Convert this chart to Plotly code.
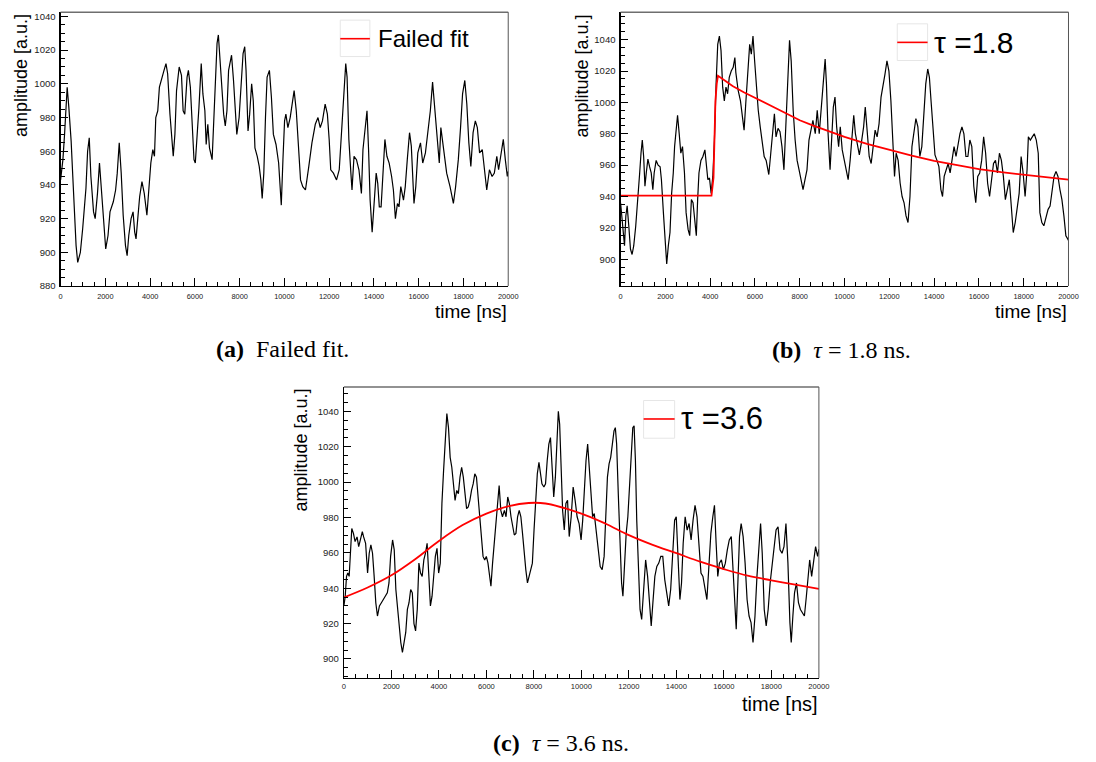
import plotly.graph_objects as go

W, H = 1096, 762

# ---------------- data ----------------
a_t = [0, 103, 177, 250, 294, 368, 471, 545, 618, 692, 765, 883, 986, 1060, 1133, 1207, 1280, 1354,
       1472, 1545, 1648, 1737, 1825, 1943, 2016, 2119, 2207, 2355, 2458, 2531, 2620, 2708, 2796,
       2899, 2973, 3046, 3149, 3238, 3311, 3370, 3444, 3532, 3635, 3738, 3856, 3929, 4032, 4121,
       4194, 4253, 4341, 4415, 4518, 4621, 4709, 4783, 4886, 4959, 5033, 5107, 5180, 5298, 5401,
       5475, 5548, 5651, 5710, 5798, 5887, 5960, 6019, 6093, 6181, 6284, 6358, 6446, 6505, 6578,
       6652, 6770, 6843, 6917, 6990, 7049, 7123, 7211, 7285, 7358, 7432, 7506, 7638, 7726, 7800,
       7873, 7976, 8079, 8153, 8227, 8286, 8374, 8447, 8536, 8609, 8683, 8786, 8874, 8948, 9007,
       9080, 9154, 9227, 9330, 9419, 9507, 9625, 9742, 9860, 9934, 10007, 10066, 10155, 10258,
       10361, 10434, 10530, 10620, 10720, 10820, 10940, 11090, 11230, 11380, 11500, 11600, 11700,
       11820, 11920, 12000, 12070, 12190, 12330, 12450, 12550, 12660, 12740, 12800, 12880, 12970,
       13020, 13110, 13220, 13330, 13440, 13510, 13610, 13690, 13760, 13830, 13920, 14000, 14100,
       14170, 14240, 14320, 14400, 14490, 14580, 14680, 14790, 14870, 14960, 15050, 15120, 15200,
       15320, 15400, 15490, 15590, 15670, 15790, 15870, 15960, 16080, 16180, 16300, 16400, 16520,
       16620, 16710, 16810, 16920, 16990, 17110, 17250, 17400, 17550, 17650, 17770, 17870, 17960,
       18060, 18150, 18240, 18330, 18430, 18530, 18620, 18720, 18840, 18940, 19040, 19160, 19280,
       19380, 19490, 19570, 19670, 19780, 19870, 19960, 20000]
a_v = [943, 955, 970, 985, 998, 986, 966, 945, 924, 904, 894, 900, 914, 925, 938, 960, 968, 945,
       924, 920, 935, 953, 935, 912, 902, 910, 924, 930, 937, 947, 965, 947, 922,
       904, 898, 910, 920, 924, 912, 908, 920, 933, 942, 935, 922, 933, 953, 961,
       957, 980, 984, 998, 1004, 1008, 1012, 1006, 982, 966, 957, 970, 996, 1010, 1005,
       984, 982, 1004, 1008, 998, 974, 955, 953, 966, 986, 1012, 994, 984, 964, 976,
       962, 955, 978, 1000, 1024, 1029, 1014, 994, 982, 975, 984, 1008, 1017, 1002, 984,
       970, 980, 1004, 1018, 1022, 1008, 972, 982, 1000, 990, 962, 957, 951, 943, 932,
       947, 980, 1004, 1008, 992, 970, 964, 953, 928, 955, 978, 982, 974, 980,
       988, 996, 984, 963, 943, 939, 937, 951, 965, 976, 980, 974, 978,
       988, 982, 967, 949, 947, 943, 949, 971, 994, 1012, 1004, 967, 947,
       937, 957, 955, 949, 935, 961, 976, 984, 961, 931, 912, 927, 947,
       941, 927, 927, 949, 967, 957, 953, 945, 937, 920, 929, 927, 939,
       931, 939, 955, 971, 963, 929, 939, 959, 965, 953, 959, 971, 984,
       1001, 986, 971, 953, 974, 961, 947, 939, 929, 939, 955, 974, 994,
       1002, 988, 965, 951, 971, 978, 974, 959, 961, 947, 937, 949, 945,
       947, 957, 949, 959, 967, 955, 945, 948]

b_t = [0, 60, 120, 176, 235, 294, 368, 441, 515, 588, 676, 765, 853, 912, 970, 1030, 1088, 1147,
       1220, 1294, 1368, 1441, 1500, 1588, 1676, 1765, 1824, 1912, 1985, 2060, 2132, 2206, 2280,
       2353, 2412, 2485, 2544, 2618, 2690, 2765, 2853, 2926, 3015, 3088, 3162, 3235, 3309, 3382,
       3441, 3500, 3588, 3676, 3765, 3838, 3897, 3970, 4044, 4118, 4190, 4265, 4338, 4412, 4485,
       4559, 4632, 4706, 4779, 4853, 4941, 5029, 5103, 5147, 5250, 5353, 5441, 5515, 5588, 5676,
       5765, 5838, 5912, 5985, 6059, 6147, 6235, 6323, 6412, 6500, 6618, 6706, 6794, 6868, 6941,
       7030, 7118, 7206, 7294, 7382, 7470, 7544, 7618, 7706, 7794, 7882, 7970, 8059, 8147, 8235,
       8323, 8412, 8500, 8588, 8693, 8781, 8870, 8957, 9045, 9134, 9192, 9266, 9354, 9427, 9500,
       9574, 9648, 9736, 9809, 9897, 9985, 10073, 10161, 10250, 10338, 10411, 10485, 10573, 10661,
       10749, 10852, 10925, 10999, 11101, 11189, 11278, 11366, 11454, 11542, 11630, 11718, 11806,
       11894, 11982, 12070, 12158, 12232, 12305, 12393, 12482, 12570, 12658, 12746, 12834, 12922,
       13010, 13098, 13186, 13275, 13363, 13451, 13539, 13627, 13715, 13789, 13862, 13950, 14038,
       14126, 14214, 14302, 14376, 14449, 14537, 14626, 14714, 14802, 14890, 14978, 15066, 15154,
       15242, 15330, 15419, 15507, 15595, 15683, 15771, 15859, 15947, 16035, 16123, 16211, 16300,
       16388, 16476, 16564, 16652, 16740, 16828, 16916, 17004, 17092, 17181, 17269, 17357, 17445,
       17533, 17621, 17709, 17797, 17885, 17974, 18062, 18150, 18208, 18296, 18384, 18472, 18561,
       18649, 18722, 18810, 18899, 19001, 19089, 19177, 19266, 19354, 19442, 19530, 19618, 19706,
       19795, 19883, 19971, 20000]
b_v = [936, 925.5, 917, 908.6, 927.6, 934, 921, 906.5, 903, 908.6, 921, 936, 955, 967.6, 976, 965.5,
       946.5, 955, 963.8, 959, 955, 944.4, 955, 963, 960, 959, 950.7, 929.7, 913, 897, 908.6, 917,
       942, 955, 971.8, 986.5, 991.8, 980, 967.6, 971.8, 955, 929.7, 919, 915, 938, 936, 925.5,
       915, 938, 955, 963, 965.5, 969.7, 961, 950.7, 951.8, 942, 952.8, 976, 1011.8, 1037,
       1042.3, 1033, 1009.7, 1001, 1009.7, 1005.5, 1016, 1020, 1022.3, 1028.6, 1019, 1007.6,
       1001, 990.7, 982.3, 999, 1022.3, 1037, 1030.7, 1042.3, 1026.5, 1009.7, 995, 984.4, 974,
       965.5, 963, 954, 967.6, 982.3, 992.8, 978, 983.4, 981.3, 971.8, 957, 984.4, 1020, 1039.6,
       1026.5, 995, 976, 963, 957, 950.7, 944.4, 950.7, 957, 976, 982.3, 988.6, 980, 995, 980,
       997, 1011.8, 1027.6, 1011.8, 980, 957, 980, 997, 1003.4, 984.4, 971.8, 984.4, 969.7, 963,
       957, 950.7, 963, 982.3, 991.8, 980, 974, 966.5, 974, 984.4, 997, 984.4, 965.5, 961, 974,
       982.3, 978, 986.5, 1003.4, 1009.7, 1018, 1026.5, 1020, 1001, 976, 952.8, 967.6, 963, 948.6,
       940, 936, 927.6, 923.4, 940, 971.8, 980, 989.7, 984.4, 965.5, 971.8, 988.6, 1011.8, 1021.3,
       1016, 1001, 980, 966.5, 963, 959, 944.4, 940, 952.8, 957, 961, 955, 963, 971.8, 965.5,
       974, 980, 984.4, 980, 965.5, 965.5, 976, 971.8, 946.5, 936, 952.8, 955, 963, 978, 967.6,
       948.6, 940, 950.7, 961, 963, 955, 967.6, 963, 952.8, 938, 944.4, 950.7, 933.9, 917,
       923.4, 931.8, 942, 965.5, 955, 940, 957, 978, 976, 978, 980, 976, 967.6, 929.7, 923.4,
       921.3, 927.6, 931.8, 933.9, 942, 952.8, 956, 952.8, 944.4, 938, 927.6, 915, 912.8, 912]

b_fit_t = [0, 4060, 4150, 4235, 4294, 4350, 4700, 5000, 5500, 6000, 6500, 7000, 7500, 8000, 8576,
           9000, 9500, 10000, 11000, 12000, 13000, 14000, 15000, 16000, 17000, 18000, 19000, 20000]
b_fit_v = [940.5, 940.5, 952, 1001, 1012, 1017, 1013.5, 1010.5, 1006.5, 1003, 999.2, 995.5, 992,
           988.6, 985.3, 983.2, 980.5, 978, 973.6, 969.7, 966, 962.7, 960, 957.5, 955.5, 954,
           952.3, 950.7]

c_t = [0, 55, 111, 166, 222, 277, 332, 402, 471, 554, 623, 693, 776, 831, 914, 997, 1066, 1136,
       1205, 1274, 1343, 1413, 1496, 1579, 1662, 1745, 1828, 1898, 1967, 2050, 2119, 2188, 2258,
       2327, 2396, 2465, 2535, 2604, 2673, 2742, 2812, 2881, 2950, 3019, 3089, 3158, 3227, 3296,
       3366, 3435, 3504, 3573, 3643, 3712, 3781, 3850, 3920, 3989, 4058, 4127, 4197, 4266, 4335,
       4404, 4474, 4543, 4612, 4681, 4751, 4820, 4889, 4958, 5028, 5097, 5166, 5235, 5305, 5374,
       5443, 5512, 5582, 5651, 5720, 5789, 5859, 5928, 5997, 6066, 6136, 6191, 6260, 6330, 6399,
       6468, 6537, 6607, 6676, 6759, 6828, 6898, 6967, 7036, 7105, 7175, 7244, 7313, 7382, 7452,
       7521, 7590, 7659, 7729, 7798, 7867, 7936, 8006, 8075, 8144, 8213, 8283, 8338, 8421, 8490,
       8560, 8629, 8698, 8766, 8835, 8904, 8974, 9029, 9085, 9140, 9209, 9279, 9348, 9417, 9487,
       9570, 9653, 9736, 9820, 9903, 9986, 10055, 10125, 10194, 10264, 10333, 10402, 10472, 10541,
       10624, 10707, 10791, 10874, 10957, 11026, 11096, 11165, 11234, 11304, 11373, 11429, 11484,
       11553, 11623, 11692, 11748, 11817, 11886, 11956, 12025, 12094, 12164, 12219, 12275, 12330,
       12399, 12469, 12538, 12621, 12705, 12788, 12871, 12940, 13010, 13093, 13176, 13259, 13343,
       13426, 13509, 13592, 13676, 13759, 13842, 13925, 13994, 14064, 14147, 14216, 14286, 14369,
       14452, 14535, 14619, 14702, 14785, 14868, 14951, 15035, 15118, 15201, 15284, 15368, 15451,
       15534, 15603, 15673, 15742, 15811, 15895, 15978, 16061, 16144, 16227, 16311, 16394, 16463,
       16519, 16588, 16658, 16727, 16810, 16893, 16976, 17060, 17143, 17226, 17309, 17392, 17476,
       17545, 17614, 17698, 17781, 17864, 17947, 18031, 18114, 18197, 18280, 18363, 18447, 18530,
       18613, 18696, 18779, 18835, 18904, 18974, 19057, 19140, 19223, 19307, 19390, 19473, 19542,
       19612, 19695, 19778, 19861, 19945, 20000]
c_v = [930, 935.5, 946.7, 948.6, 946.7, 959.8, 973.8, 971, 966.4, 969, 963.5, 967.3, 972, 969,
       965.4, 948.6, 959.8, 964.5, 959.8, 946.7, 931.8, 924.3, 930, 931.8, 933.6, 935.5, 937.4,
       943, 958, 967.3, 961.7, 939.3, 928, 916.8, 909.3, 903.7, 909.3, 915, 928, 931.8, 939.3,
       937.4, 920, 915.9, 928, 954.2, 948.6, 946.7, 956, 959.8, 965.4, 946.7, 930, 935.5, 946.7,
       958, 962.6, 948.6, 954.2, 987.9, 1006.5, 1025.2, 1038.7, 1030.8, 1014, 1008.4, 999,
       989.7, 995.3, 993.5, 1002.8, 1008.4, 1002.8, 991.6, 985, 986, 989.7, 995.3, 999, 1004.7,
       1002.8, 991.6, 980.4, 969, 958, 956, 958, 954.2, 944.9, 941.1, 954.2, 965.4, 976.6,
       987.9, 998.1, 984, 980.4, 984, 980.4, 991.6, 987.9, 980.4, 974.8, 970.1, 971, 980.4,
       984, 980.4, 971, 959.8, 950.5, 943, 946.7, 950.5, 954.2, 972.9, 993.5, 1004.7, 1011.2,
       1004.7, 999, 997.2, 999, 1012.1, 1021.5, 1025.2, 1010.3, 991.6, 1002.8, 1025.2, 1040,
       1032.7, 1012.1, 984, 972.9, 987.9, 989.7, 969.2, 980.4, 997.2, 989.7, 980.4, 976.6, 967.3,
       978.5, 997.2, 1012.1, 1021.5, 1006.5, 989.7, 980.4, 982.2, 971, 961.7, 952.3, 950.5, 958,
       980.4, 1002.8, 1010.3, 1014, 1021.5, 1029, 1030.8, 1021.5, 993.5, 965.4, 943, 935.5,
       954.2, 971, 980.4, 997.2, 1015.9, 1030.8, 1031.8, 1012.1, 978.5, 950.5, 928, 922.4, 943,
       956, 946.7, 930, 918.7, 931.8, 946.7, 952.3, 954.2, 958, 958, 944.9, 937.4, 930, 939.3,
       961.7, 978.5, 980.4, 956, 933.6, 943, 965.4, 980.4, 972.9, 976.6, 967.3, 978.5, 986.9,
       980.4, 961.7, 948.6, 946.7, 939.3, 933.6, 952.3, 971, 980.4, 986.9, 965.4, 946.7, 954.2,
       956, 950.5, 954.2, 961.7, 967.3, 969.2, 946.7, 924.3, 916.8, 943, 969.2, 976.6, 969.2,
       954.2, 933.6, 924.3, 920.6, 909.3, 924.3, 946.7, 965.4, 976.6, 959.8, 928, 918.7, 928,
       943, 952.3, 963.5, 972.9, 974.8, 961.7, 959.8, 963.5, 976.6, 954.2, 920.6, 909.3, 924.3,
       937.4, 943, 931.8, 928, 926.2, 924.3, 935.5, 948.6, 956, 946.7, 954.2, 963.5, 958, 962]

c_fit_t = [0, 1000, 2000, 3000, 4000, 5000, 6000, 6950, 7780, 8488, 10000, 11000, 12000, 13000,
           14000, 15000, 16000, 17000, 18000, 19000, 20000]
c_fit_v = [934.8, 940.4, 947.3, 956.4, 966.7, 975.7, 982.2, 986.4, 988.2, 987.9, 982.2, 976.6,
           970, 964.5, 959.8, 955, 950.8, 947.1, 944.5, 942, 939.6]

x_ticks = list(range(0, 20001, 2000))
x_ticktext = [str(v) for v in x_ticks]

# ---------------- layout geometry (pixels) ----------------
panels = [
    dict(left=59.3, right=512.3, top=11.3, bottom=287.3, yr=[880, 1042.5],
         yt=list(range(880, 1041, 20)), title_y=312.5, amp_x=18.5, tfs=19, xfs=7.4, xso=3),
    dict(left=626.0, right=1079.3, top=11.3, bottom=287.3, yr=[882.9, 1057.5],
         yt=list(range(900, 1041, 20)), title_y=312.5, amp_x=586.7, tfs=19, xfs=7.4, xso=3),
    dict(left=346.0, right=826.7, top=389.0, bottom=682.3, yr=[889.3, 1053.8],
         yt=list(range(900, 1041, 20)), title_y=708.5, amp_x=302.7, tfs=20, xfs=7.6, xso=1),
]


def px(x):
    return x / W


def py(y):
    return 1 - y / H


fig = go.Figure()

series = [(a_t, a_v, None, None, None), (b_t, b_v, b_fit_t, b_fit_v, "linear"),
          (c_t, c_v, c_fit_t, c_fit_v, "spline")]
shapes = []
annotations = []

for i, (p, (tt, vv, ft, fv, fshape)) in enumerate(zip(panels, series)):
    n = i + 1
    xa = "x" if n == 1 else f"x{n}"
    ya = "y" if n == 1 else f"y{n}"
    fig.add_trace(go.Scatter(x=tt, y=vv, mode="lines", xaxis=xa, yaxis=ya,
                             line=dict(color="black", width=1.2), showlegend=False,
                             hoverinfo="skip"))
    if ft is not None:
        fig.add_trace(go.Scatter(x=ft, y=fv, mode="lines", xaxis=xa, yaxis=ya,
                                 line=dict(color="#ff0000", width=1.8, shape=fshape),
                                 showlegend=False, hoverinfo="skip"))
    xkey = "xaxis" if n == 1 else f"xaxis{n}"
    ykey = "yaxis" if n == 1 else f"yaxis{n}"
    fig.update_layout(**{
        xkey: dict(domain=[px(p["left"]), px(p["right"])], anchor=ya, range=[0, 20000],
                   tickmode="array", tickvals=x_ticks, ticktext=x_ticktext,
                   ticks="inside", ticklen=8, tickwidth=1, tickcolor="black",
                   minor=dict(dtick=500, tick0=0, ticks="inside", ticklen=4, tickwidth=1,
                              tickcolor="black", showgrid=False),
                   showline=True, linecolor="black", linewidth=1.2, showgrid=False,
                   zeroline=False,
                   tickfont=dict(family="Liberation Sans", size=p["xfs"], color="#222"),
                   ticklabelstandoff=p["xso"]),
        ykey: dict(domain=[py(p["bottom"]), py(p["top"])], anchor=xa, range=p["yr"],
                   tickmode="array", tickvals=p["yt"], ticktext=[str(v) for v in p["yt"]],
                   ticks="inside", ticklen=7, tickwidth=1, tickcolor="black",
                   minor=dict(dtick=5, tick0=0, ticks="inside", ticklen=4, tickwidth=1,
                              tickcolor="black", showgrid=False),
                   showline=True, linecolor="black", linewidth=1.2, showgrid=False,
                   zeroline=False, tickfont=dict(family="Liberation Sans", size=9.5, color="#222"),
                   ticklabelstandoff=2),
    })
    # frame top/right
    shapes.append(dict(type="line", xref="paper", yref="paper", x0=px(p["left"]),
                       x1=px(p["right"]), y0=py(p["top"]), y1=py(p["top"]),
                       line=dict(color="#6e6e6e", width=1.6)))
    shapes.append(dict(type="line", xref="paper", yref="paper", x0=px(p["right"]),
                       x1=px(p["right"]), y0=py(p["top"]), y1=py(p["bottom"]),
                       line=dict(color="#555555", width=1)))
    # axis titles
    annotations.append(dict(text="time [ns]", xref="paper", yref="paper", x=px(p["right"] + 1),
                            y=py(p["title_y"]), xanchor="right", yanchor="middle",
                            showarrow=False,
                            font=dict(family="Liberation Sans", size=p["tfs"], color="black")))
    annotations.append(dict(text="amplitude [a.u.]", xref="paper", yref="paper",
                            x=px(p["amp_x"]), y=py(p["top"]), xanchor="center", yanchor="top",
                            textangle=-90, showarrow=False,
                            font=dict(family="Liberation Sans", size=18, color="black")))

# legends (box around line sample, red line, text)
legends = [
    dict(x0=342.3, x1=372.3, y0=19.3, y1=56.0, ly=38.0, tx=378.0, text="Failed fit", fs=24),
    dict(x0=906.0, x1=936.7, y0=23.0, y1=60.0, ly=41.7, tx=941.0, text="τ =1.8", fs=30),
    dict(x0=649.3, x1=680.7, y0=402.7, y1=440.7, ly=421.3, tx=685.0, text="τ =3.6", fs=31),
]
for L in legends:
    shapes.append(dict(type="rect", xref="paper", yref="paper", x0=px(L["x0"]), x1=px(L["x1"]),
                       y0=py(L["y1"]), y1=py(L["y0"]), line=dict(color="#e6e6e6", width=1),
                       fillcolor="white"))
    shapes.append(dict(type="line", xref="paper", yref="paper", x0=px(L["x0"]), x1=px(L["x1"]),
                       y0=py(L["ly"]), y1=py(L["ly"]), line=dict(color="#ff0000", width=1.6)))
    annotations.append(dict(text=L["text"], xref="paper", yref="paper", x=px(L["tx"]),
                            y=py(L["ly"]), xanchor="left", yanchor="middle", showarrow=False,
                            font=dict(family="Liberation Sans", size=L["fs"], color="black")))

# captions
NB = "\u00a0"
captions = [
    (284, 351, f"<b>(a)</b>{NB}{NB}Failed fit."),
    (850, 352, f"<b>(b)</b>{NB}{NB}<i>τ</i> = 1.8{NB}ns."),
    (566, 748, f"<b>(c)</b>{NB}{NB}<i>τ</i> = 3.6{NB}ns."),
]
for cx, cy, txt in captions:
    annotations.append(dict(text=txt, xref="paper", yref="paper", x=px(cx), y=py(cy),
                            xanchor="center", yanchor="middle", showarrow=False,
                            font=dict(family="Liberation Serif", size=24, color="black")))

fig.update_layout(width=W, height=H, margin=dict(l=0, r=0, t=0, b=0), autosize=False,
                  paper_bgcolor="white", plot_bgcolor="white", shapes=shapes,
                  annotations=annotations, showlegend=False, hovermode=False)

fig.write_html("out.html", config={"displayModeBar": False, "staticPlot": True},
               post_script="document.body.style.margin='0px';document.body.style.padding='0px';")
